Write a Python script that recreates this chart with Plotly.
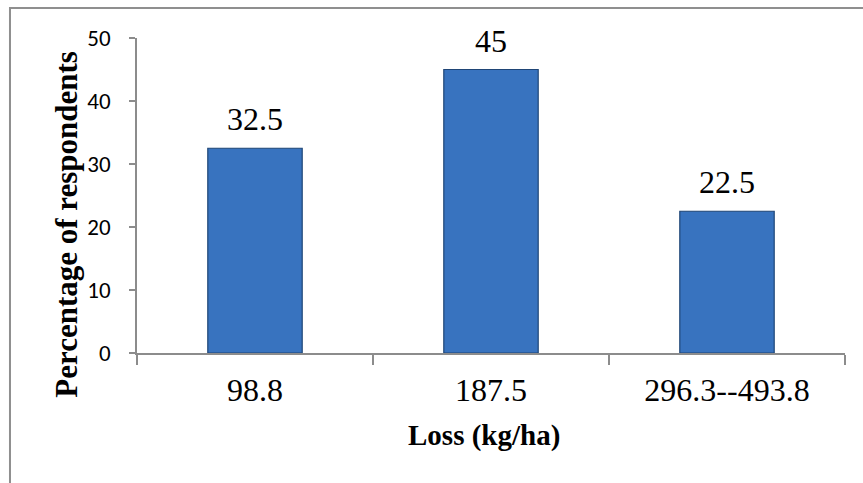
import plotly.graph_objects as go

# Loss classes and share of respondents in each
loss_classes = ["98.8", "187.5", "296.3--493.8"]
respondents_pct = [32.5, 45, 22.5]
y_ticks = [0, 10, 20, 30, 40, 50]

SERIF = "Times New Roman, Liberation Serif, serif"
SANS = "Calibri, Carlito, Lato, sans-serif"
AXIS_GREY = "#8c8c8c"

fig = go.Figure()
fig.add_trace(go.Bar(
    x=loss_classes,
    y=respondents_pct,
    marker=dict(color="#3873bf", line=dict(color="#1f4576", width=1.2)),
    width=0.4,
    showlegend=False,
))

# value labels above each bar (category index positions)
for i, val in enumerate(respondents_pct):
    fig.add_annotation(
        x=i, y=val, xref="x", yref="y",
        text=f"{val:g}", showarrow=False,
        yanchor="bottom", yshift=9,
        font=dict(family=SERIF, size=32, color="black"),
    )

# axis titles
fig.add_annotation(
    x=0.49, y=-0.262, xref="paper", yref="paper",
    text="<b>Loss (kg/ha)</b>", showarrow=False,
    xanchor="center", yanchor="middle",
    font=dict(family=SERIF, size=29, color="black"),
)
fig.add_annotation(
    x=-0.099, y=0.41, xref="paper", yref="paper",
    text="<b>Percentage of respondents</b>", showarrow=False,
    textangle=-90, xanchor="center", yanchor="middle",
    font=dict(family=SERIF, size=31, color="black"),
)

# outer frame
fig.add_shape(
    type="rect", xref="paper", yref="paper",
    x0=-0.1794, x1=1.04, y0=-0.45, y1=1.0952,
    line=dict(color="#8f8f8f", width=2), fillcolor="rgba(0,0,0,0)",
    layer="below",
)

fig.update_layout(
    width=863, height=483,
    margin=dict(l=137, r=18, t=38, b=130),
    paper_bgcolor="white", plot_bgcolor="white",
    xaxis=dict(
        type="category",
        range=[-0.5, len(loss_classes) - 0.5],
        showline=True, linecolor=AXIS_GREY, linewidth=1.5,
        ticks="outside", tickson="boundaries", ticklen=10,
        tickcolor=AXIS_GREY, tickwidth=1.5, tickangle=0,
        tickfont=dict(family=SERIF, size=32, color="black"),
        ticklabelstandoff=8,
        showgrid=False, zeroline=False,
    ),
    yaxis=dict(
        range=[0, 50], tickvals=y_ticks,
        showline=True, linecolor=AXIS_GREY, linewidth=1.5,
        ticks="outside", ticklen=6, tickcolor=AXIS_GREY, tickwidth=1.5,
        tickfont=dict(family=SANS, size=23, color="black"),
        ticklabelstandoff=14,
        showgrid=False, zeroline=False,
    ),
)

fig.write_html("out.html")
